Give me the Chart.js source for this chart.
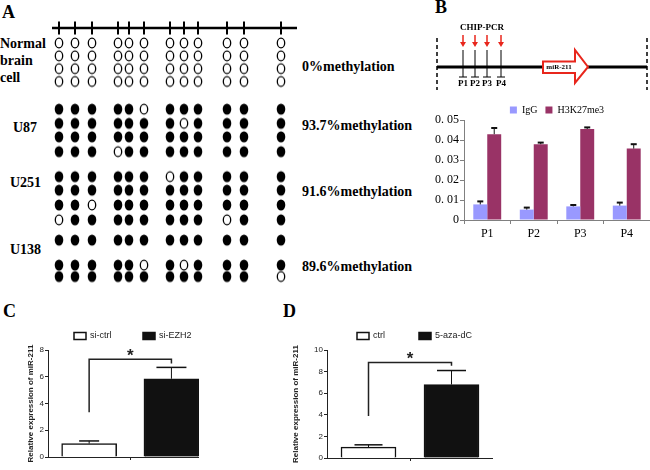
<!DOCTYPE html>
<html>
<head>
<meta charset="utf-8">
<script src="https://cdn.jsdelivr.net/npm/chart.js@4.4.1/dist/chart.umd.min.js"></script>
<style>
  html, body { margin: 0; padding: 0; background: #fff; }
  #page { position: relative; width: 650px; height: 470px; overflow: hidden; font-family: "Liberation Serif", serif; }
  canvas { position: absolute; }
  .lbl { position: absolute; font-weight: bold; font-size: 14px; line-height: 17px; color: #000; white-space: nowrap; }
  .letter { font-size: 18px; line-height: 20px; }
</style>
</head>
<body>
<div id="page">
  <div class="lbl letter" style="left:2px;top:2px">A</div>
  <div class="lbl letter" style="left:435px;top:-3px">B</div>
  <div class="lbl letter" style="left:3px;top:301px">C</div>
  <div class="lbl letter" style="left:283px;top:301px">D</div>

  <div class="lbl" style="left:0;top:35px">Normal<br>brain<br>cell</div>
  <div class="lbl" style="left:13px;top:119px">U87</div>
  <div class="lbl" style="left:10px;top:174px">U251</div>
  <div class="lbl" style="left:10px;top:241px">U138</div>

  <div class="lbl" style="left:302px;top:58px">0%methylation</div>
  <div class="lbl" style="left:302px;top:117px">93.7%methylation</div>
  <div class="lbl" style="left:302px;top:183px">91.6%methylation</div>
  <div class="lbl" style="left:302px;top:258px">89.6%methylation</div>

  <canvas id="methChart" width="260" height="270" style="left:45px;top:16px"></canvas>
  <canvas id="mapChart" width="220" height="80" style="left:430px;top:20px"></canvas>
  <canvas id="chipChart" width="230" height="148" style="left:420px;top:97px"></canvas>
  <canvas id="ezhChart" width="179" height="143" style="left:20px;top:320px"></canvas>
  <canvas id="azaChart" width="208" height="144" style="left:285px;top:320px"></canvas>
</div>

<script>
// A: CpG sites along the fragment, clones (1 = methylated, 0 = unmethylated)
const cpgSites = [7, 23, 40, 66, 77, 92, 118, 132, 146, 175, 192, 229];
const fragmentSpan = [0, 245];
const normalClones = ['000000000000', '000000000000', '000000000000', '000000000000'];
const u87Clones = ['111110111111', '111111101111', '111111111111', '111011111111'];
const u251Clones = ['111111011111', '111111111111', '110111111111', '011111111011'];
const u138Clones = ['111111111111', '111110101111', '111111111110'];
const cloneRows = [[0, 0.95, 1.9, 2.85], [4.9, 5.95, 6.95, 8.05], [9.9, 10.9, 12, 13.1], [14.6, 16.45, 17.3]];

// B: promoter map
const regionSpan = [0, 210];
const primerNames = ['P1', 'P2', 'P3', 'P4'];
const primerSites = [26, 38, 50, 64];
const mirSpan = [106, 151];

// B: ChIP-PCR
const positions = ['P1', 'P2', 'P3', 'P4'];
const iggValues = [0.0078, 0.0052, 0.0068, 0.0072];
const iggErrors = [0.0015, 0.0010, 0.0007, 0.0015];
const h3k27Values = [0.0429, 0.0379, 0.0455, 0.0357];
const h3k27Errors = [0.0031, 0.0008, 0.0008, 0.0022];
const chipTickLabels = ['0', '0. 01', '0. 02', '0. 03', '0. 04', '0. 05'];

// C: si-EZH2
const ezhGroups = ['si-ctrl', 'si-EZH2'];
const ezhValues = [1.0, 5.85];
const ezhErrors = [0.2, 0.85];
const ezhBracket = [3.35, 7.3, 7.0, 7.8];

// D: 5-aza-dC
const azaGroups = ['ctrl', '5-aza-dC'];
const azaValues = [1.0, 6.8];
const azaErrors = [0.22, 1.3];
const azaBracket = [3.9, 8.85, 8.55, 9.5];

const axisLabel = 'Relative expression of miR-211';

// ---------- helpers ----------
function makeDot(filled) {
  const c = document.createElement('canvas');
  c.width = 12; c.height = 14;
  const g = c.getContext('2d');
  g.beginPath();
  g.ellipse(6, 7, filled ? 4.3 : 3.7, filled ? 5.6 : 4.9, 0, 0, Math.PI * 2);
  if (filled) {
    g.fillStyle = '#000'; g.fill();
  } else {
    g.fillStyle = '#fff'; g.fill();
    g.lineWidth = 1.3; g.strokeStyle = '#000'; g.stroke();
  }
  return c;
}

function errorBars(errs, caps, lw) {
  return {
    id: 'errorBars',
    afterDatasetsDraw(chart) {
      const ctx = chart.ctx, y = chart.scales.y;
      ctx.save();
      ctx.strokeStyle = '#111';
      chart.data.datasets.forEach((ds, i) => {
        const meta = chart.getDatasetMeta(i);
        meta.data.forEach((bar, j) => {
          const v = meta.controller.getParsed(j).y;
          const top = y.getPixelForValue(v + errs[i][j]);
          ctx.lineWidth = 1;
          ctx.beginPath();
          ctx.moveTo(bar.x, bar.y);
          ctx.lineTo(bar.x, top);
          ctx.stroke();
          ctx.lineWidth = lw;
          ctx.beginPath();
          ctx.moveTo(bar.x - caps[i] / 2, top);
          ctx.lineTo(bar.x + caps[i] / 2, top);
          ctx.stroke();
        });
      });
      ctx.restore();
    }
  };
}

function sigBracket(b) {
  return {
    id: 'sigBracket',
    afterDatasetsDraw(chart) {
      const ctx = chart.ctx, x = chart.scales.x, y = chart.scales.y;
      const x1 = x.getPixelForValue(1), x2 = x.getPixelForValue(2);
      ctx.save();
      ctx.strokeStyle = '#222';
      ctx.lineWidth = 1.5;
      ctx.beginPath();
      ctx.moveTo(x1, y.getPixelForValue(b[0]));
      ctx.lineTo(x1, y.getPixelForValue(b[1]));
      ctx.lineTo(x2, y.getPixelForValue(b[1]));
      ctx.lineTo(x2, y.getPixelForValue(b[2]));
      ctx.stroke();
      ctx.fillStyle = '#222';
      ctx.font = 'bold 17px "Liberation Sans"';
      ctx.textAlign = 'center';
      ctx.textBaseline = 'alphabetic';
      const m = ctx.measureText('*');
      ctx.fillText('*', (x1 + x2) / 2, y.getPixelForValue(b[3]) + (m.actualBoundingBoxAscent - m.actualBoundingBoxDescent) / 2);
      ctx.restore();
    }
  };
}

// legend boxes above the plot, placed relative to the plot's left edge
function boxLegend(offsets) {
  return {
    id: 'boxLegend',
    afterDraw(chart) {
      const ctx = chart.ctx, area = chart.chartArea;
      const cy = area.top - 14;
      ctx.save();
      ctx.font = '9px "Liberation Sans"';
      ctx.textBaseline = 'middle';
      ctx.textAlign = 'left';
      chart.data.datasets.forEach((ds, i) => {
        const bx = area.left + offsets[i];
        ctx.fillStyle = ds.backgroundColor;
        ctx.fillRect(bx, cy - 3.5, 12, 7);
        ctx.strokeStyle = ds.borderColor;
        ctx.lineWidth = 1.5;
        ctx.strokeRect(bx, cy - 3.5, 12, 7);
        ctx.fillStyle = '#222';
        ctx.fillText(ds.label, bx + 16, cy);
      });
      ctx.restore();
    }
  };
}

// ---------- A: methylation clones ----------
const dotOpen = makeDot(false);
const dotFull = makeDot(true);
const methPts = [], unmethPts = [];
[normalClones, u87Clones, u251Clones, u138Clones].forEach((clones, s) => {
  clones.forEach((row, r) => {
    [...row].forEach((c, k) => {
      (c === '1' ? methPts : unmethPts).push({ x: cpgSites[k], y: cloneRows[s][r] });
    });
  });
});

const cpgLine = {
  id: 'cpgLine',
  beforeDatasetsDraw(chart) {
    const ctx = chart.ctx, x = chart.scales.x, y = chart.scales.y;
    const yl = y.getPixelForValue(-1.11);
    ctx.save();
    ctx.strokeStyle = '#000';
    ctx.lineWidth = 2.5;
    ctx.beginPath();
    ctx.moveTo(x.getPixelForValue(fragmentSpan[0]), yl);
    ctx.lineTo(x.getPixelForValue(fragmentSpan[1]), yl);
    ctx.stroke();
    ctx.lineWidth = 2;
    cpgSites.forEach(s => {
      const px = x.getPixelForValue(s);
      ctx.beginPath();
      ctx.moveTo(px, yl - 6.5);
      ctx.lineTo(px, yl + 6.5);
      ctx.stroke();
    });
    ctx.restore();
  }
};

new Chart(document.getElementById('methChart'), {
  type: 'scatter',
  data: {
    datasets: [
      { label: 'unmethylated', data: unmethPts, pointStyle: dotOpen, pointRadius: 5, clip: false },
      { label: 'methylated', data: methPts, pointStyle: dotFull, pointRadius: 5, clip: false }
    ]
  },
  options: {
    responsive: false,
    animation: false,
    events: [],
    layout: { padding: 0, autoPadding: false },
    plugins: { legend: { display: false }, tooltip: { enabled: false } },
    scales: {
      x: { type: 'linear', display: false, min: -7, max: 253 },
      y: { type: 'linear', display: false, min: -2, max: 18, reverse: true }
    }
  },
  plugins: [cpgLine]
});

// ---------- B: promoter map ----------
const mapDraw = {
  id: 'mapDraw',
  afterDraw(chart) {
    const ctx = chart.ctx, x = chart.scales.x, y = chart.scales.y;
    const yt = y.getPixelForValue(47);
    ctx.save();
    ctx.strokeStyle = '#000';
    // dashed region ends
    ctx.setLineDash([4, 3]);
    ctx.lineWidth = 1.5;
    regionSpan.forEach(v => {
      const px = x.getPixelForValue(v);
      ctx.beginPath(); ctx.moveTo(px, yt - 29); ctx.lineTo(px, yt + 23); ctx.stroke();
    });
    ctx.setLineDash([]);
    ctx.lineWidth = 3;
    ctx.beginPath();
    ctx.moveTo(x.getPixelForValue(regionSpan[0]), yt);
    ctx.lineTo(x.getPixelForValue(regionSpan[1]), yt);
    ctx.stroke();
    // primers
    ctx.font = 'bold 9px "Liberation Serif"';
    ctx.textAlign = 'center';
    ctx.textBaseline = 'middle';
    primerSites.forEach((p, i) => {
      const px = x.getPixelForValue(p);
      ctx.strokeStyle = '#000';
      ctx.lineWidth = 1;
      ctx.beginPath();
      ctx.moveTo(px, yt - 17); ctx.lineTo(px, yt + 10);
      ctx.moveTo(px - 4, yt + 10); ctx.lineTo(px + 4, yt + 10);
      ctx.stroke();
      // red arrow
      ctx.strokeStyle = '#e8261c';
      ctx.fillStyle = '#e8261c';
      ctx.lineWidth = 1.5;
      ctx.beginPath(); ctx.moveTo(px, yt - 32); ctx.lineTo(px, yt - 24); ctx.stroke();
      ctx.beginPath();
      ctx.moveTo(px - 3, yt - 25); ctx.lineTo(px + 3, yt - 25); ctx.lineTo(px, yt - 20);
      ctx.closePath(); ctx.fill();
      ctx.fillStyle = '#000';
      ctx.fillText(primerNames[i], px, yt + 17);
    });
    const cx = (x.getPixelForValue(primerSites[0]) + x.getPixelForValue(primerSites[primerSites.length - 1])) / 2;
    ctx.fillText('CHIP-PCR', cx, yt - 39);
    // miR-211 block arrow
    const a0 = x.getPixelForValue(mirSpan[0]), a1 = x.getPixelForValue(mirSpan[1]);
    const ah = a1 - 13;
    ctx.beginPath();
    ctx.moveTo(a0, yt - 5.5); ctx.lineTo(ah, yt - 5.5); ctx.lineTo(ah, yt - 17);
    ctx.lineTo(a1, yt); ctx.lineTo(ah, yt + 16); ctx.lineTo(ah, yt + 6);
    ctx.lineTo(a0, yt + 6); ctx.closePath();
    ctx.fillStyle = '#fff'; ctx.fill();
    ctx.strokeStyle = '#e8261c'; ctx.lineWidth = 2; ctx.stroke();
    ctx.fillStyle = '#000';
    ctx.font = 'bold 7px "Liberation Serif"';
    ctx.fillText('miR-211', (a0 + ah) / 2, yt + 0.5);
    ctx.restore();
  }
};

new Chart(document.getElementById('mapChart'), {
  type: 'scatter',
  data: { datasets: [{ data: primerSites.map(p => ({ x: p, y: 47 })), pointRadius: 0 }] },
  options: {
    responsive: false,
    animation: false,
    events: [],
    layout: { padding: 0, autoPadding: false },
    plugins: { legend: { display: false }, tooltip: { enabled: false } },
    scales: {
      x: { type: 'linear', display: false, min: -7, max: 213 },
      y: { type: 'linear', display: false, min: 0, max: 80, reverse: true }
    }
  },
  plugins: [mapDraw]
});

// ---------- B: ChIP-PCR bars ----------
new Chart(document.getElementById('chipChart'), {
  type: 'bar',
  data: {
    labels: positions,
    datasets: [
      { label: 'IgG', data: iggValues, backgroundColor: '#9999ff', borderWidth: 0 },
      { label: 'H3K27me3', data: h3k27Values, backgroundColor: '#993366', borderWidth: 0 }
    ]
  },
  options: {
    responsive: false,
    animation: false,
    events: [],
    datasets: { bar: { categoryPercentage: 0.6, barPercentage: 1.0 } },
    plugins: {
      tooltip: { enabled: false },
      legend: {
        position: 'top', align: 'center', fullSize: false, maxHeight: 23,
        labels: { boxWidth: 7, boxHeight: 7, padding: 8, color: '#000', font: { family: 'Liberation Serif', size: 10 } }
      }
    },
    scales: {
      x: {
        grid: { drawOnChartArea: false, tickLength: 4, color: '#808080', offset: true },
        border: { color: '#808080' },
        ticks: { color: '#000', padding: 3, font: { family: 'Liberation Serif', size: 12 } },
        afterFit: s => { s.height = 25; }
      },
      y: {
        min: 0, max: 0.05,
        grid: { drawOnChartArea: false, tickLength: 4, color: '#808080' },
        border: { color: '#808080' },
        ticks: { stepSize: 0.01, padding: 1, color: '#000', font: { family: 'Liberation Serif', size: 12 },
                 callback: (v, i) => chipTickLabels[i] },
        afterFit: s => { s.width = 44; }
      }
    }
  },
  plugins: [errorBars([iggErrors, h3k27Errors], [6, 6], 2)]
});

// ---------- C and D: relative expression ----------
function expressionChart(id, groups, values, errs, caps, bracket, yMax, xMax, axisWidth, legendOffsets) {
  return new Chart(document.getElementById(id), {
    type: 'bar',
    data: {
      datasets: [
        { label: groups[0], data: [{ x: 1, y: values[0] }], backgroundColor: '#fff', borderColor: '#111', borderWidth: 1.5 },
        { label: groups[1], data: [{ x: 2, y: values[1] }], backgroundColor: '#111', borderColor: '#111', borderWidth: 1.5 }
      ]
    },
    options: {
      responsive: false,
      animation: false,
      events: [],
      layout: { padding: { top: 30 } },
      datasets: { bar: { grouped: false, barThickness: 55, maxBarThickness: 55, barPercentage: 1, categoryPercentage: 1 } },
      plugins: {
        tooltip: { enabled: false },
        legend: { display: false }
      },
      scales: {
        x: {
          type: 'linear', min: 0.5, max: xMax, offset: false,
          afterBuildTicks: s => { s.ticks = [{ value: 1.5 }]; },
          ticks: { callback: () => '', padding: 0 },
          grid: { drawOnChartArea: false, tickLength: 3, color: '#222', offset: false },
          border: { color: '#222' },
          afterFit: s => { s.height = 6; }
        },
        y: {
          min: 0, max: yMax,
          ticks: { stepSize: 2, padding: 1, color: '#222', font: { family: 'Liberation Sans', size: 8 } },
          grid: { drawOnChartArea: false, tickLength: 3, color: '#222' },
          border: { color: '#222' },
          title: { display: true, text: axisLabel, color: '#222', padding: { top: 6, bottom: 0 },
                   font: { family: 'Liberation Sans', size: 8, weight: 'bold' } },
          afterFit: s => { s.width = axisWidth; }
        }
      }
    },
    plugins: [errorBars(errs, caps, 1.5), sigBracket(bracket), boxLegend(legendOffsets)]
  });
}

expressionChart('ezhChart', ezhGroups, ezhValues, [[ezhErrors[0]], [ezhErrors[1]]], [20, 30], ezhBracket, 8, 2.335, 28, [26, 95]);
expressionChart('azaChart', azaGroups, azaValues, [[azaErrors[0]], [azaErrors[1]]], [28, 29], azaBracket, 10, 2.5, 42, [30, 92]);
</script>
</body>
</html>
